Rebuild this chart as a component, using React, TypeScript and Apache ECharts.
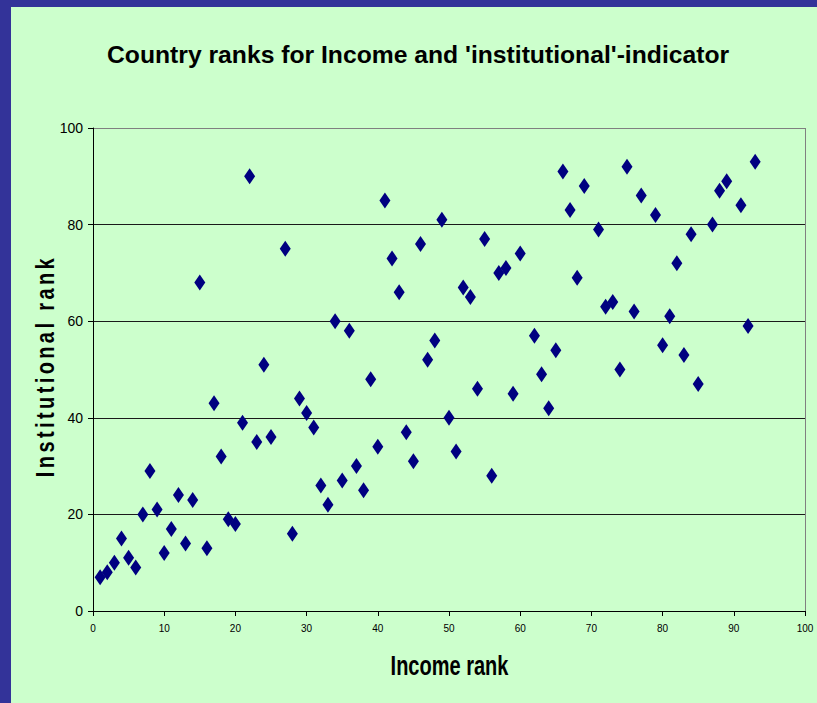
import React, { useEffect, useRef } from "react";
import * as echarts from "echarts";

// Income rank of each country (x) and its rank on the institutional indicator (y)
const incomeRank = [
  1, 2, 3, 4, 5, 6, 7, 8, 9, 10, 11, 12, 13, 14, 15, 16, 17, 18, 19, 20,
  21, 22, 23, 24, 25, 27, 28, 29, 30, 31, 32, 33, 34, 35, 36, 37, 38, 39, 40,
  41, 42, 43, 44, 45, 46, 47, 48, 49, 50, 51, 52, 53, 54, 55, 56, 57, 58, 59, 60,
  62, 63, 64, 65, 66, 67, 68, 69, 71, 72, 73, 74, 75, 76, 77, 79, 80,
  81, 82, 83, 84, 85, 87, 88, 89, 91, 92, 93,
];
const institutionalRank = [
  7, 8, 10, 15, 11, 9, 20, 29, 21, 12, 17, 24, 14, 23, 68, 13, 43, 32, 19, 18,
  39, 90, 35, 51, 36, 75, 16, 44, 41, 38, 26, 22, 60, 27, 58, 30, 25, 48, 34,
  85, 73, 66, 37, 31, 76, 52, 56, 81, 40, 33, 67, 65, 46, 77, 28, 70, 71, 45, 74,
  57, 49, 42, 54, 91, 83, 69, 88, 79, 63, 64, 50, 92, 62, 86, 82, 55,
  61, 72, 53, 78, 47, 80, 87, 89, 84, 59, 93,
];

const titleText = "Country ranks for Income and 'institutional'-indicator";
const xName = "Income rank";
const yName = "Institutional rank";

const SANS = "'Liberation Sans', Arial, sans-serif";

// widen the rotated y-axis caption with extra space between letters
function spaceOutYName(root: HTMLElement | null) {
  if (!root) return;
  root.querySelectorAll("text").forEach((t) => {
    if (t.textContent === yName) {
      (t as SVGTextElement).style.letterSpacing = "3.4px";
    }
  });
}

export default function App() {
  const ref = useRef<HTMLDivElement>(null);

  useEffect(() => {
    if (!ref.current) return;
    const el = ref.current;
    const chart = echarts.init(el, null, { renderer: "svg" });
    const points = incomeRank.map((x, i) => [x, institutionalRank[i]]);

    chart.on("finished", () => spaceOutYName(el));

    chart.setOption({
      animation: false,
      backgroundColor: "#333399",
      graphic: [
        {
          type: "rect",
          z: -10,
          silent: true,
          shape: { x: 11, y: 7, width: 806, height: 696 },
          style: { fill: "#CCFFCC" },
        },
        {
          type: "text",
          silent: true,
          x: 449.5,
          y: 665,
          scaleY: 1.4,
          style: {
            text: xName,
            fontFamily: SANS,
            fontWeight: "bold",
            fontSize: 20,
            fill: "#000000",
            align: "center",
            verticalAlign: "middle",
          },
        },
        {
          type: "text",
          silent: true,
          x: 45.5,
          y: 366,
          rotation: Math.PI / 2,
          scaleY: 1.3,
          style: {
            text: yName,
            fontFamily: SANS,
            fontWeight: "bold",
            fontSize: 20,
            fill: "#000000",
            align: "center",
            verticalAlign: "middle",
          },
        },
      ],
      title: {
        text: titleText,
        left: 107,
        top: 42,
        padding: 0,
        textStyle: {
          fontFamily: SANS,
          fontWeight: "bold",
          fontSize: 24.7,
          color: "#000000",
        },
      },
      grid: { left: 93, right: 12, top: 128, bottom: 92, containLabel: false },
      xAxis: {
        type: "value",
        min: 0,
        max: 100,
        interval: 10,
        axisLine: { show: true, lineStyle: { color: "#000000", width: 1 } },
        axisTick: { show: true, length: 5, inside: false, lineStyle: { color: "#000000" } },
        axisLabel: { fontFamily: SANS, fontSize: 10, color: "#000000", margin: 12 },
        splitLine: {
          show: true,
          lineStyle: {
            color: [
              "rgba(0,0,0,0)", "rgba(0,0,0,0)", "rgba(0,0,0,0)", "rgba(0,0,0,0)",
              "rgba(0,0,0,0)", "rgba(0,0,0,0)", "rgba(0,0,0,0)", "rgba(0,0,0,0)",
              "rgba(0,0,0,0)", "rgba(0,0,0,0)", "#808080",
            ],
            width: 1,
          },
        },
      },
      yAxis: {
        type: "value",
        min: 0,
        max: 100,
        interval: 20,
        axisLine: { show: true, lineStyle: { color: "#000000", width: 1 } },
        axisTick: { show: true, length: 5, inside: false, lineStyle: { color: "#000000" } },
        axisLabel: { fontFamily: SANS, fontSize: 14, color: "#000000", margin: 10 },
        splitLine: {
          show: true,
          lineStyle: {
            color: ["#000000", "#1a1a1a", "#1a1a1a", "#1a1a1a", "#1a1a1a", "#808080"],
            width: 1,
          },
        },
      },
      series: [
        {
          type: "scatter",
          data: points,
          symbol: "diamond",
          symbolSize: [11, 16],
          itemStyle: { color: "#000080", opacity: 1 },
          emphasis: { disabled: true },
        },
      ],
    });

    spaceOutYName(el);

    return () => chart.dispose();
  }, []);

  return (
    <div
      ref={ref}
      style={{ position: "fixed", left: 0, top: 0, width: 817, height: 703 }}
    />
  );
}
